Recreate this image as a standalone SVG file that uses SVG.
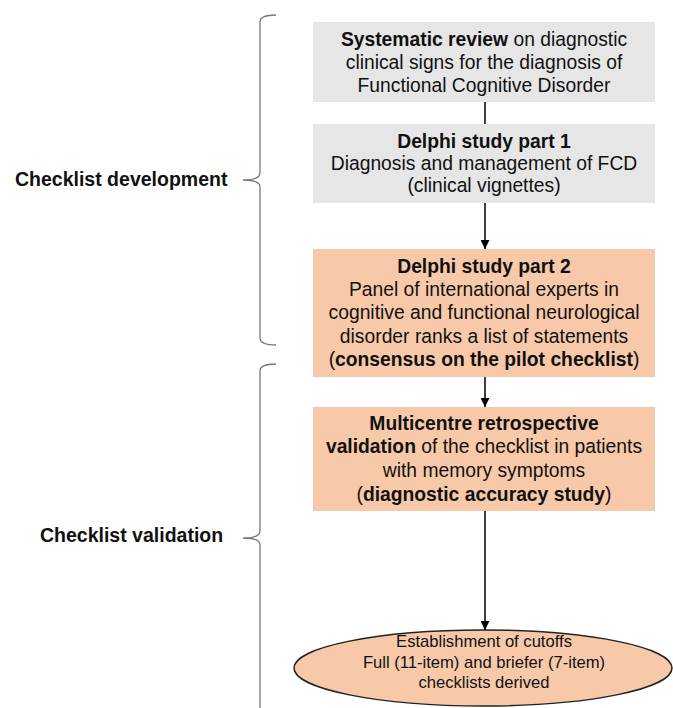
<svg xmlns="http://www.w3.org/2000/svg" width="673" height="708" viewBox="0 0 673 708">
<defs>
<marker id="arr" viewBox="0 0 10 10" refX="10" refY="5" markerWidth="9" markerHeight="9" orient="auto" markerUnits="userSpaceOnUse">
<path d="M0,0 L10,5 L0,10 Z" fill="#000"/>
</marker>
</defs>
<style>
.t{font-family:"Liberation Sans",Arial,sans-serif;font-size:19.3px;fill:#111;text-anchor:middle}
.b{font-weight:bold}
.e{font-family:"Liberation Sans",Arial,sans-serif;font-size:16.6px;fill:#111;text-anchor:middle}
.lbl{font-family:"Liberation Sans",Arial,sans-serif;font-size:19.5px;font-weight:bold;fill:#111}
.gray{fill:#e6e6e6}
.org{fill:#f8c9a9}
.br{fill:none;stroke:#777;stroke-width:1.3}
.cn{stroke:#000;stroke-width:1.5;fill:none}
</style>
<rect width="673" height="708" fill="#fff"/>
<g id="braces">
<path class="br" d="M276,15 Q260,15 260,22 L260,173 Q260,180 243,180 Q260,180 260,187 L260,338 Q260,345 276,345"/>
<path class="br" d="M276,364 Q260,364 260,371 L260,531 Q260,538 243,538 Q260,538 260,545 L260,708"/>
</g>
<g id="label-dev"><text class="lbl" x="15" y="186">Checklist development</text></g>
<g id="label-val"><text class="lbl" x="40" y="542">Checklist validation</text></g>
<g id="connectors">
<line class="cn" x1="485" y1="102" x2="485" y2="124"/>
<line class="cn" x1="485" y1="203" x2="485" y2="249" marker-end="url(#arr)"/>
<line class="cn" x1="485" y1="377" x2="485" y2="407" marker-end="url(#arr)"/>
<line class="cn" x1="485" y1="511" x2="485" y2="630" marker-end="url(#arr)"/>
</g>
<g id="n1">
<rect class="gray" x="313" y="22" width="342" height="80"/>
<text class="t" x="484" y="46"><tspan class="b">Systematic review</tspan> on diagnostic</text>
<text class="t" x="484" y="69">clinical signs for the diagnosis of</text>
<text class="t" x="484" y="92">Functional Cognitive Disorder</text>
</g>
<g id="n2">
<rect class="gray" x="313" y="124" width="342" height="79"/>
<text class="t b" x="484" y="148">Delphi study part 1</text>
<text class="t" x="484" y="170">Diagnosis and management of FCD</text>
<text class="t" x="484" y="192">(clinical vignettes)</text>
</g>
<g id="n3">
<rect class="org" x="313" y="249" width="342" height="128"/>
<text class="t b" x="484" y="273">Delphi study part 2</text>
<text class="t" x="484" y="296">Panel of international experts in</text>
<text class="t" x="484" y="319">cognitive and functional neurological</text>
<text class="t" x="484" y="343">disorder ranks a list of statements</text>
<text class="t" x="484" y="366">(<tspan class="b">consensus on the pilot checklist</tspan>)</text>
</g>
<g id="n4">
<rect class="org" x="313" y="407" width="342" height="104"/>
<text class="t b" x="484" y="430">Multicentre retrospective</text>
<text class="t" x="484" y="453"><tspan class="b">validation</tspan> of the checklist in patients</text>
<text class="t" x="484" y="477">with memory symptoms</text>
<text class="t" x="484" y="501">(<tspan class="b">diagnostic accuracy study</tspan>)</text>
</g>
<g id="n5">
<ellipse cx="483" cy="668" rx="189" ry="38" fill="#f8c9a9" stroke="#222" stroke-width="1.5"/>
<text class="e" x="484" y="647">Establishment of cutoffs</text>
<text class="e" x="484" y="668">Full (11-item) and briefer (7-item)</text>
<text class="e" x="484" y="688">checklists derived</text>
</g>
</svg>
